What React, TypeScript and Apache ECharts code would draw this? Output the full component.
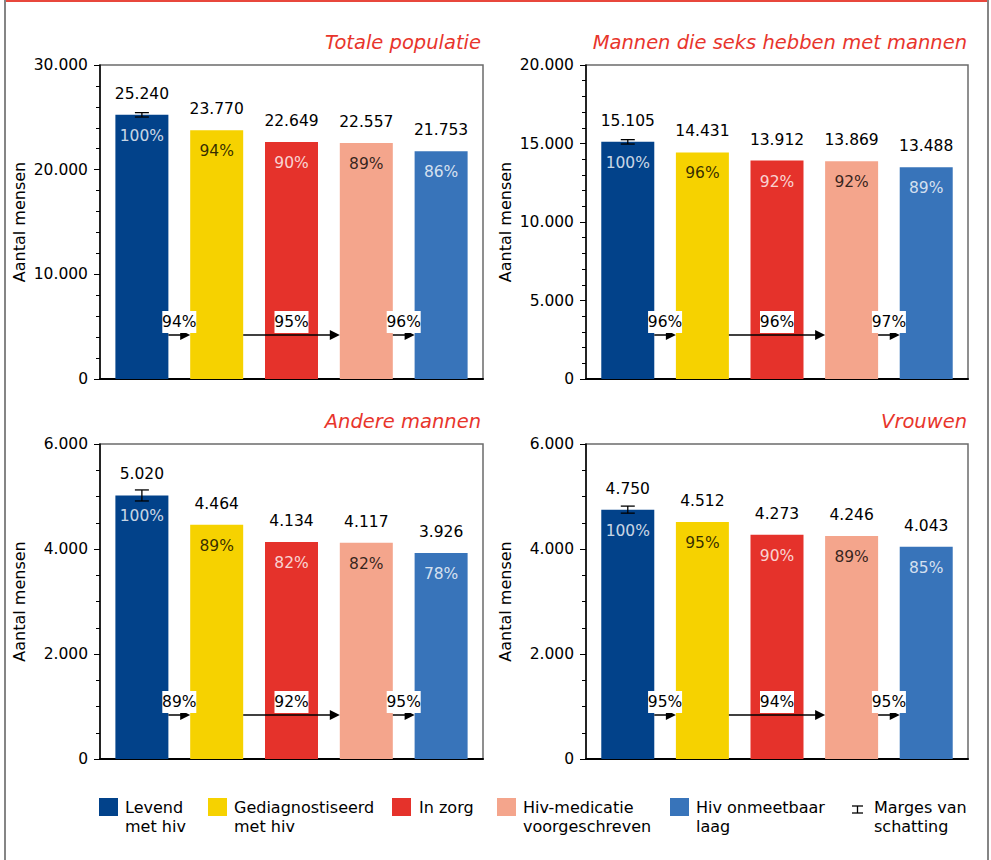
import React, { useEffect, useRef } from "react";
import * as echarts from "echarts";

// ---------- data ----------
const categories = [
  "Levend met hiv",
  "Gediagnostiseerd met hiv",
  "In zorg",
  "Hiv-medicatie voorgeschreven",
  "Hiv onmeetbaar laag",
];
const legendLines = [
  ["Levend", "met hiv"],
  ["Gediagnostiseerd", "met hiv"],
  ["In zorg"],
  ["Hiv-medicatie", "voorgeschreven"],
  ["Hiv onmeetbaar", "laag"],
];
const errorLegendLines = ["Marges van", "schatting"];

const panelTitles = [
  "Totale populatie",
  "Mannen die seks hebben met mannen",
  "Andere mannen",
  "Vrouwen",
];

const totalValues = [25240, 23770, 22649, 22557, 21753];
const totalPct = [100, 94, 90, 89, 86];
const totalSteps = [94, 95, 96];
const totalError = [25030, 25450];

const msmValues = [15105, 14431, 13912, 13869, 13488];
const msmPct = [100, 96, 92, 92, 89];
const msmSteps = [96, 96, 97];
const msmError = [14965, 15245];

const otherMenValues = [5020, 4464, 4134, 4117, 3926];
const otherMenPct = [100, 89, 82, 82, 78];
const otherMenSteps = [89, 92, 95];
const otherMenError = [4915, 5125];

const womenValues = [4750, 4512, 4273, 4246, 4043];
const womenPct = [100, 95, 90, 89, 85];
const womenSteps = [95, 94, 95];
const womenError = [4683, 4817];

const stepFrom = [0, 1, 3];
const stepTo = [1, 3, 4];

const yMax = [30000, 20000, 6000, 6000];
const yInterval = [10000, 5000, 2000, 2000];
const yMinorSplit = [5, 5, 4, 4];

// ---------- styles / layout ----------
const FONT = "DejaVu Sans";
const colors = ["#02428a", "#f6d200", "#e5322b", "#f4a58c", "#3874ba"];
const pctLabelColors = ["#ffffff", "#000000", "#ffffff", "#000000", "#ffffff"];
const titleColor = "#e8352c";

const grids = [
  { left: 100, top: 65, width: 383, height: 314 },
  { left: 586, top: 65, width: 382, height: 314 },
  { left: 100, top: 444, width: 383, height: 315 },
  { left: 586, top: 444, width: 382, height: 315 },
];
const titlePos = [
  { right: 510, top: 32 },
  { right: 24, top: 32 },
  { right: 510, top: 411 },
  { right: 24, top: 411 },
];
const legendSquareX = [99, 208, 392, 497, 670];
const legendTextX = [125, 234, 419, 523, 696];
const legendErrX = 852;
const legendErrTextX = 874;
const legendY = 798;

const BAR_W = 53;

function fmt(v: number): string {
  const s = Math.round(v).toString();
  return s.replace(/\B(?=(\d{3})+(?!\d))/g, ".");
}

export default function App() {
  const ref = useRef<HTMLDivElement>(null);

  useEffect(() => {
    if (!ref.current) return;
    const chart = echarts.init(ref.current, undefined, { renderer: "svg" });

    const panels = [
      { values: totalValues, pct: totalPct, steps: totalSteps, err: totalError },
      { values: msmValues, pct: msmPct, steps: msmSteps, err: msmError },
      { values: otherMenValues, pct: otherMenPct, steps: otherMenSteps, err: otherMenError },
      { values: womenValues, pct: womenPct, steps: womenSteps, err: womenError },
    ];

    const series: any[] = [];
    panels.forEach((p, gi) => {
      series.push({
        type: "bar",
        xAxisIndex: gi,
        yAxisIndex: gi,
        barWidth: BAR_W,
        silent: true,
        data: p.values.map((v, i) => ({
          value: [i, v],
          itemStyle: { color: colors[i] },
        })),
        label: {
          show: true,
          position: "top",
          distance: 13,
          color: "#000",
          fontSize: 15.5,
          fontFamily: FONT,
          formatter: (d: any) => fmt(d.value[1]),
        },
        z: 2,
      });
      series.push({
        type: "scatter",
        xAxisIndex: gi,
        yAxisIndex: gi,
        symbolSize: 0,
        silent: true,
        data: p.values.map((v, i) => ({
          value: [i, v, p.pct[i]],
          label: { color: pctLabelColors[i] },
        })),
        label: {
          show: true,
          position: "bottom",
          distance: 13,
          fontSize: 15.5,
          fontFamily: FONT,
          formatter: (d: any) => d.value[2] + "%",
        },
        z: 3,
      });
      // error bar on first category
      series.push({
        type: "custom",
        xAxisIndex: gi,
        yAxisIndex: gi,
        silent: true,
        z: 4,
        data: [[0, p.err[0], p.err[1]]],
        renderItem: (params: any, api: any) => {
          const x = api.value(0);
          const lo = api.coord([x, api.value(1)]);
          const hi = api.coord([x, api.value(2)]);
          const w = 7;
          const st = { stroke: "#000", lineWidth: 1.3 };
          return {
            type: "group",
            children: [
              { type: "line", shape: { x1: lo[0], y1: lo[1], x2: hi[0], y2: hi[1] }, style: st },
              { type: "line", shape: { x1: lo[0] - w, y1: lo[1], x2: lo[0] + w, y2: lo[1] }, style: st },
              { type: "line", shape: { x1: hi[0] - w, y1: hi[1], x2: hi[0] + w, y2: hi[1] }, style: st },
            ],
          };
        },
      });
      // step arrows
      series.push({
        type: "custom",
        xAxisIndex: gi,
        yAxisIndex: gi,
        silent: true,
        z: 5,
        data: p.steps.map((s, k) => [stepFrom[k], stepTo[k], s]),
        renderItem: (params: any, api: any) => {
          const a = api.coord([api.value(0), 0]);
          const b = api.coord([api.value(1), 0]);
          const half = BAR_W / 2;
          const y = a[1] - 44;
          const x0 = a[0] + half;
          const x1 = b[0] - half;
          const mid = (x0 + x1) / 2;
          return {
            type: "group",
            children: [
              {
                type: "line",
                shape: { x1: x0, y1: y, x2: x1 - 8, y2: y },
                style: { stroke: "#000", lineWidth: 1.5 },
              },
              {
                type: "polygon",
                shape: { points: [[x1 - 10, y - 5], [x1, y], [x1 - 10, y + 5]] },
                style: { fill: "#000" },
              },
              {
                type: "rect",
                shape: { x: mid - 17, y: y - 24, width: 34, height: 22 },
                style: { fill: "#fff" },
              },
              {
                type: "text",
                x: mid,
                y: y - 13,
                style: {
                  text: api.value(2) + "%",
                  fill: "#000",
                  fontSize: 15.5,
                  fontFamily: FONT,
                  align: "center",
                  verticalAlign: "middle",
                },
              },
            ],
          };
        },
      });
    });

    const graphic: any[] = [
      // outer frame
      { type: "line", shape: { x1: 4, y1: 1, x2: 989, y2: 1 }, style: { stroke: "#e8473c", lineWidth: 2 } },
      { type: "line", shape: { x1: 5, y1: 0, x2: 5, y2: 860 }, style: { stroke: "#858585", lineWidth: 2 } },
      { type: "line", shape: { x1: 988, y1: 0, x2: 988, y2: 860 }, style: { stroke: "#858585", lineWidth: 2 } },
    ];
    categories.forEach((c, i) => {
      graphic.push({
        type: "rect",
        shape: { x: legendSquareX[i], y: legendY, width: 19, height: 18 },
        style: { fill: colors[i] },
      });
      graphic.push({
        type: "text",
        x: legendTextX[i],
        y: legendY,
        style: {
          text: legendLines[i].join("\n"),
          fontSize: 16,
          lineHeight: 19,
          fontFamily: FONT,
          fill: "#000",
          verticalAlign: "top",
        },
      });
    });
    // error legend symbol
    const ex = legendErrX, ey = legendY + 8;
    graphic.push(
      { type: "line", shape: { x1: ex, y1: ey, x2: ex + 11, y2: ey }, style: { stroke: "#000", lineWidth: 1.3 } },
      { type: "line", shape: { x1: ex, y1: ey + 7, x2: ex + 11, y2: ey + 7 }, style: { stroke: "#000", lineWidth: 1.3 } },
      { type: "line", shape: { x1: ex + 5.5, y1: ey, x2: ex + 5.5, y2: ey + 7 }, style: { stroke: "#000", lineWidth: 1.3 } },
      {
        type: "text",
        x: legendErrTextX,
        y: legendY,
        style: {
          text: errorLegendLines.join("\n"),
          fontSize: 16,
          lineHeight: 19,
          fontFamily: FONT,
          fill: "#000",
          verticalAlign: "top",
        },
      }
    );

    const option: any = {
      animation: false,
      backgroundColor: "#fff",
      title: panelTitles.map((t, i) => ({
        text: t,
        right: titlePos[i].right,
        top: titlePos[i].top,
        padding: 0,
        textStyle: {
          color: titleColor,
          fontStyle: "italic",
          fontWeight: "normal",
          fontSize: 19.5,
          fontFamily: FONT,
        },
      })),
      grid: grids.map((g) => ({
        ...g,
        show: true,
        borderColor: "#6b6b6b",
        borderWidth: 1.5,
        backgroundColor: "transparent",
      })),
      xAxis: grids.map((_, i) => ({
        type: "value",
        gridIndex: i,
        min: -0.56,
        max: 4.56,
        axisLine: { show: true, onZero: false, lineStyle: { color: "#000", width: 2 } },
        axisTick: { show: false },
        axisLabel: { show: false },
        splitLine: { show: false },
      })),
      yAxis: grids.map((_, i) => ({
        type: "value",
        gridIndex: i,
        min: 0,
        max: yMax[i],
        interval: yInterval[i],
        name: "Aantal mensen",
        nameLocation: "middle",
        nameRotate: 90,
        nameGap: 73,
        nameTextStyle: { fontSize: 16, fontFamily: FONT, color: "#000" },
        axisLine: { show: true, onZero: false, lineStyle: { color: "#000", width: 1.5 } },
        axisTick: { show: true, length: 6, lineStyle: { color: "#000", width: 1 } },
        minorTick: { show: true, splitNumber: yMinorSplit[i], length: 4, lineStyle: { color: "#000", width: 1 } },
        axisLabel: {
          fontSize: 15.5,
          fontFamily: FONT,
          color: "#000",
          margin: 12,
          formatter: (v: number) => fmt(v),
        },
        splitLine: { show: false },
        minorSplitLine: { show: false },
      })),
      series,
      graphic,
    };

    chart.setOption(option);
    return () => chart.dispose();
  }, []);

  return (
    <div
      ref={ref}
      style={{ position: "fixed", left: 0, top: 0, width: 991, height: 860, background: "#fff" }}
    />
  );
}
